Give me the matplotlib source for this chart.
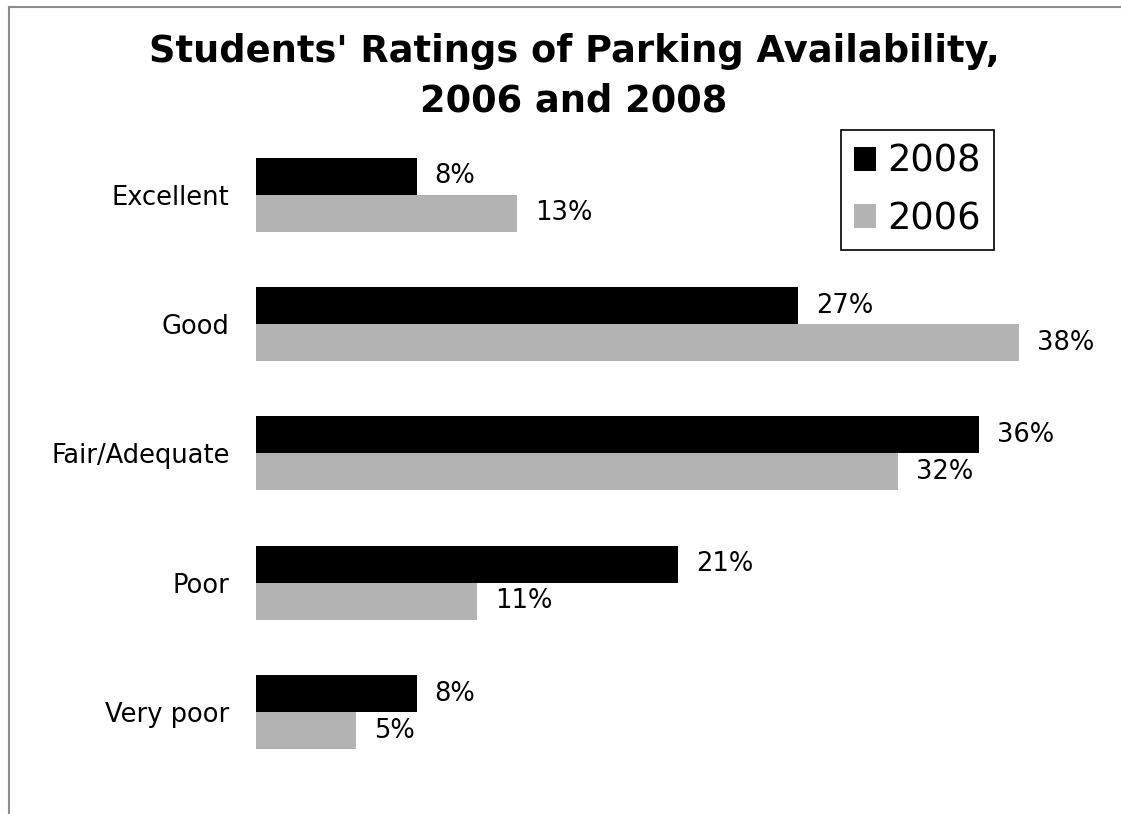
import matplotlib
matplotlib.use('Agg')
import matplotlib.pyplot as plt
from matplotlib.lines import Line2D
from matplotlib.patches import Patch
import numpy as np

# ratings and the share of students giving each one
categories = ['Excellent', 'Good', 'Fair/Adequate', 'Poor', 'Very poor']
pct_2008 = [8, 27, 36, 21, 8]
pct_2006 = [13, 38, 32, 11, 5]

plt.rcParams['font.family'] = ['DejaVu Sans']

fig = plt.figure(figsize=(11.21, 8.14), dpi=100)
ax = fig.add_axes([0.2284, 0.0455, 0.7163, 0.7948])

y = np.arange(len(categories))
h = 0.286

bars08 = ax.barh(y - h / 2, pct_2008, height=h, color='#000000', label='2008')
bars06 = ax.barh(y + h / 2, pct_2006, height=h, color='#b3b3b3', label='2006')

# value labels next to each bar
ax.bar_label(bars08, fmt='%d%%', padding=13, fontsize=18.5)
ax.bar_label(bars06, fmt='%d%%', padding=13, fontsize=18.5)

ax.set_xlim(0, 40)
ax.set_ylim(len(categories) - 0.5, -0.5)
ax.set_yticks(y)
ax.set_yticklabels(categories, fontsize=18.5)
ax.tick_params(axis='y', length=0, pad=19)
ax.set_xticks([])
for s in ax.spines.values():
    s.set_visible(False)

# title in two lines
fig.text(0.512, 0.96, "Students' Ratings of Parking Availability,\n2006 and 2008",
         ha='center', va='top', fontsize=26.5, fontweight='bold', linespacing=1.45)

# legend box in the upper right
handles = [Patch(facecolor='#000000'), Patch(facecolor='#b3b3b3')]
leg = fig.legend(handles, ['2008', '2006'], loc='upper right',
                 bbox_to_anchor=(994 / 1121, 1 - 130 / 814), borderaxespad=0,
                 fontsize=26.5, handlelength=0.6, handleheight=0.6, handletextpad=0.3,
                 labelspacing=0.55, borderpad=0.35, fancybox=False, framealpha=1)
leg.get_frame().set_edgecolor('#000000')
leg.get_frame().set_linewidth(1.2)

# grey outline on the top and left edges
fig.add_artist(Line2D([9 / 1121, 1], [1 - 7 / 814, 1 - 7 / 814], color='#8c8c8c', linewidth=1.5))
fig.add_artist(Line2D([9 / 1121, 9 / 1121], [0, 1 - 7 / 814], color='#8c8c8c', linewidth=1.5))

plt.savefig('out.png', dpi=100)
plt.close()
